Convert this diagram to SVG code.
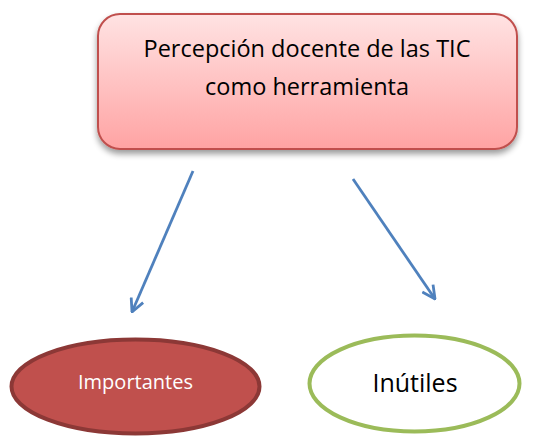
<svg xmlns="http://www.w3.org/2000/svg" width="542" height="436" viewBox="0 0 542 436">
<style>
.lbl{font-family:"Open Sans","Liberation Sans",sans-serif;text-anchor:middle}
.conn{stroke:#4f81bd;stroke-width:2.8;fill:none}
</style>
<defs>
<linearGradient id="g" x1="0" y1="0" x2="0" y2="1">
<stop offset="0" stop-color="#ffe3e3"/>
<stop offset="1" stop-color="#ffa3a3"/>
</linearGradient>
<filter id="sh" x="-10%" y="-10%" width="120%" height="140%">
<feGaussianBlur in="SourceAlpha" stdDeviation="3"/>
<feOffset dy="4"/>
<feComponentTransfer><feFuncA type="linear" slope="0.4"/></feComponentTransfer>
<feMerge><feMergeNode/><feMergeNode in="SourceGraphic"/></feMerge>
</filter>
<marker id="arr" viewBox="0 0 16 16" refX="15" refY="8" markerWidth="16" markerHeight="16" markerUnits="userSpaceOnUse" orient="auto">
<path d="M2,1.5 L15,8 L2,14.5" fill="none" stroke="#4f81bd" stroke-width="2.8"/>
</marker>
</defs>
<g id="top">
<rect x="98" y="14" width="419" height="135" rx="22" fill="url(#g)" stroke="#c0504d" stroke-width="2" filter="url(#sh)"/>
<text class="lbl" x="307" y="57" font-size="23.5">Percepción docente de las TIC</text>
<text class="lbl" x="307" y="95" font-size="23.5">como herramienta</text>
</g>
<g id="connectors">
<line class="conn" x1="193" y1="171" x2="132" y2="312" marker-end="url(#arr)"/>
<line class="conn" x1="353" y1="179" x2="435" y2="299" marker-end="url(#arr)"/>
</g>
<g id="importantes">
<ellipse cx="135.5" cy="386.5" rx="124" ry="47" fill="#c0504d" stroke="#8c3836" stroke-width="4"/>
<text class="lbl" x="135.5" y="389" font-size="20" fill="#ffffff">Importantes</text>
</g>
<g id="inutiles">
<ellipse cx="414.5" cy="383.5" rx="105" ry="48" fill="#ffffff" stroke="#9bbb59" stroke-width="4"/>
<text class="lbl" x="415" y="392" font-size="25" fill="#000000">Inútiles</text>
</g>
</svg>
